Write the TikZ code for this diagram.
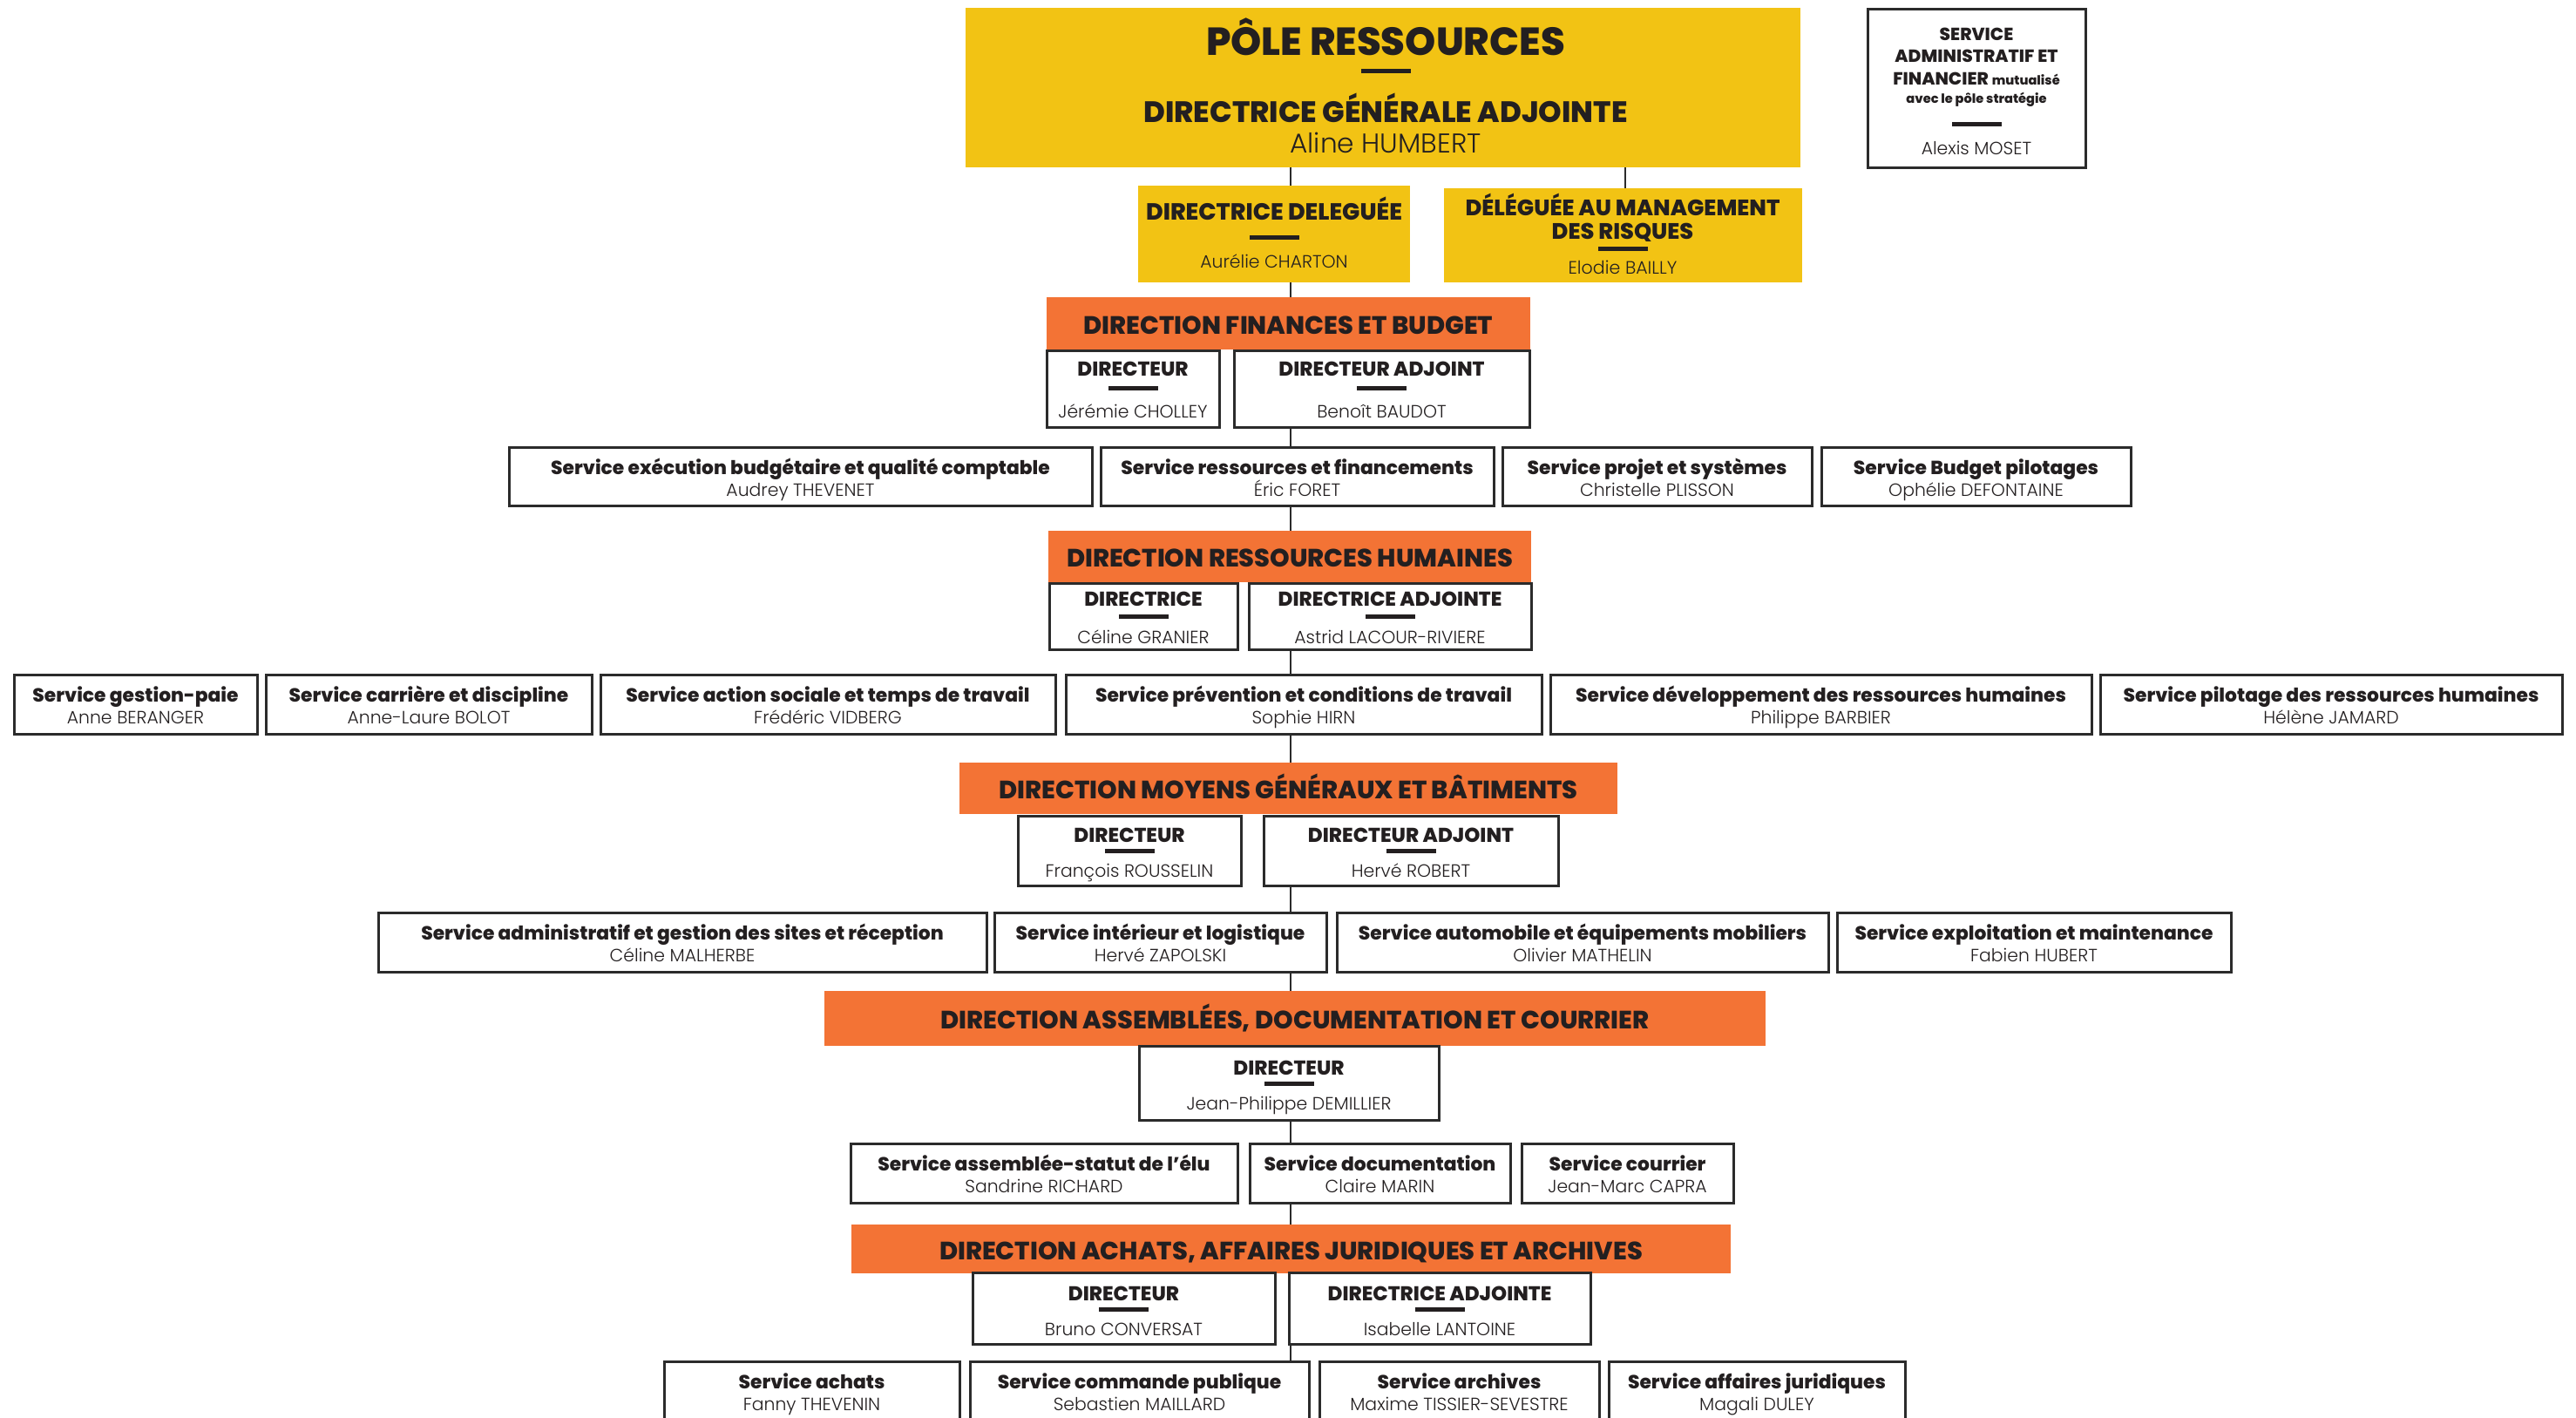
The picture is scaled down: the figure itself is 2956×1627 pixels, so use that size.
\documentclass[tikz,border=0pt]{standalone}
\usepackage{fontspec}
\newfontfamily\bfont{Poppins ExtraBold}
\newfontfamily\lfont{Poppins Light}
\definecolor{cYel}{HTML}{F2C314}
\definecolor{cOra}{HTML}{F37335}
\definecolor{cTxt}{HTML}{231F20}
\definecolor{cBord}{HTML}{2B2B2B}
\newcommand\fs[1]{\fontsize{#1}{#1}\selectfont}
\tikzset{
  txt/.style={inner sep=0pt, outer sep=0pt, text=cTxt, anchor=center, text depth=0pt},
  hb/.style={txt, font=\bfont\fs{14.4}, text height=10.1pt},
  tt/.style={txt, font=\bfont\fs{11.5}, text height=8pt},
  st/.style={txt, font=\bfont\fs{10.9}, text height=7.6pt},
  nm/.style={txt, font=\lfont\fs{10.2}, text height=7.1pt},
  barr/.style={fill=cTxt, inner sep=0pt, outer sep=0pt, minimum width=28.5pt, minimum height=2.5pt},
  yel/.style={fill=cYel, draw=none},
  ora/.style={fill=cOra, draw=none},
  wbox/.style={fill=white, draw=cBord, line width=1.5pt},
  link/.style={draw=cBord, line width=1pt},
}
\newcommand\bx[6]{\node[#6, inner sep=0pt, outer sep=0pt, minimum width={(#4-#2)*0.5pt}, minimum height={(#5-#3)*0.5pt}] (#1) at ({(#2+#4)/2},{(#3+#5)/2}) {};}
\newcommand\sv[7]{\bx{#1}{#2}{#3}{#4}{#5}{wbox}
  \node[st] (#1t) at ({(#2+#4)/2},{#3+24}) {#6};
  \node[nm] (#1n) at ({(#2+#4)/2},{#3+49}) {#7};}
\newcommand\dr[9]{\bx{#1}{#2}{#3}{#4}{#5}{wbox}
  \node[tt] (#1t) at ({(#2+#4)/2},{#3+#8}) {#6};
  \node[barr] (#1b) at ({(#2+#4)/2},{#3+(#8+#9)/2-2}) {};
  \node[nm] (#1n) at ({(#2+#4)/2},{#3+#9}) {#7};}
\newcommand\hd[6]{\bx{#1}{#2}{#3}{#4}{#5}{ora}
  \node[hb] (#1t) at ({(#2+#4)/2},{(#3+#5)/2+2}) {#6};}
\begin{document}
\begin{tikzpicture}[x=0.5pt,y=-0.5pt]
\useasboundingbox (0,0) rectangle (2956,1627);
\fill[white] (0,0) rectangle (2956,1627);
\coordinate (tr) at (1481,0);
\coordinate (tr2) at (1865,0);
% ---- top
\bx{top}{1108}{9}{2066}{192}{yel}
\node[txt, font=\bfont\fs{22.4}, text height=15.7pt] (topa) at (1590,48) {PÔLE RESSOURCES};
\node[barr] (topb) at (1590,82) {};
\node[txt, font=\bfont\fs{16.9}, text height=11.8pt] (topc) at (1590,129) {DIRECTRICE GÉNÉRALE ADJOINTE};
\node[txt, font=\lfont\fs{15.6}, text height=10.9pt] (topd) at (1590,165) {Aline HUMBERT};
% ---- admin
\bx{adm}{2143}{11}{2393}{192}{wbox}
\node[txt, font=\bfont\fs{10.1}, text height=7.1pt] (adm1) at (2268,39) {SERVICE};
\node[txt, font=\bfont\fs{10.1}, text height=7.1pt] (adm2) at (2268,64) {ADMINISTRATIF ET};
\node[txt, font=\bfont\fs{10.1}, text height=7.1pt] (adm3) at (2268,90) {FINANCIER {\fs{7.3}mutualisé}};
\node[txt, font=\bfont\fs{7.3}, text height=5.1pt] (adm4) at (2268,113) {avec le pôle stratégie};
\node[barr] (admb) at (2268,143) {};
\node[txt, font=\lfont\fs{10.2}, text height=7.1pt] (adm5) at (2268,170) {Alexis MOSET};
% ---- deleguees
\bx{dd}{1306}{213}{1618}{324}{yel}
\node[txt, font=\bfont\fs{13.4}, text height=9.4pt] (ddt) at (1462,243) {DIRECTRICE DELEGUÉE};
\node[barr] (ddb) at (1462,272) {};
\node[txt, font=\lfont\fs{10.2}, text height=7.1pt] (ddn) at (1462,300) {Aurélie CHARTON};
\bx{dm}{1657}{216}{2068}{324}{yel}
\node[txt, font=\bfont\fs{12.8}, text height=9pt] (dmt) at (1862,238) {DÉLÉGUÉE AU MANAGEMENT};
\node[txt, font=\bfont\fs{12.8}, text height=9pt] (dmu) at (1862,265) {DES RISQUES};
\node[barr] (dmb) at (1862,285) {};
\node[txt, font=\lfont\fs{10.3}, text height=7.2pt] (dmn) at (1862,307) {Elodie BAILLY};
% ---- finances
\hd{fh}{1201}{341}{1756}{401}{DIRECTION FINANCES ET BUDGET}
\dr{fd}{1201}{402}{1399}{490}{DIRECTEUR}{Jérémie CHOLLEY}{21}{70}
\dr{fa}{1416}{402}{1755}{490}{DIRECTEUR ADJOINT}{Benoît BAUDOT}{21}{70}
\sv{f1}{584}{513}{1253}{580}{Service exécution budgétaire et qualité comptable}{Audrey THEVENET}
\sv{f2}{1263}{513}{1714}{580}{Service ressources et financements}{Éric FORET}
\sv{f3}{1724}{513}{2079}{580}{Service projet et systèmes}{Christelle PLISSON}
\sv{f4}{2090}{513}{2445}{580}{Service Budget pilotages}{Ophélie DEFONTAINE}
% ---- RH
\hd{rh}{1203}{609}{1757}{668}{DIRECTION RESSOURCES HUMAINES}
\dr{rd}{1204}{669}{1420}{745}{DIRECTRICE}{Céline GRANIER}{18}{62}
\dr{ra}{1433}{669}{1757}{745}{DIRECTRICE ADJOINTE}{Astrid LACOUR-RIVIERE}{18}{62}
\sv{r1}{16}{774}{295}{842}{Service gestion-paie}{Anne BERANGER}
\sv{r2}{305}{774}{679}{842}{Service carrière et discipline}{Anne-Laure BOLOT}
\sv{r3}{689}{774}{1211}{842}{Service action sociale et temps de travail}{Frédéric VIDBERG}
\sv{r4}{1223}{774}{1769}{842}{Service prévention et conditions de travail}{Sophie HIRN}
\sv{r5}{1779}{774}{2400}{842}{Service développement des ressources humaines}{Philippe BARBIER}
\sv{r6}{2410}{774}{2940}{842}{Service pilotage des ressources humaines}{Hélène JAMARD}
% ---- MGB
\hd{mh}{1101}{875}{1856}{934}{DIRECTION MOYENS GÉNÉRAUX ET BÂTIMENTS}
\dr{md}{1168}{936}{1424}{1016}{DIRECTEUR}{François ROUSSELIN}{22}{63}
\dr{ma}{1450}{936}{1788}{1016}{DIRECTEUR ADJOINT}{Hervé ROBERT}{22}{63}
\sv{m1}{434}{1047}{1132}{1115}{Service administratif et gestion des sites et réception}{Céline MALHERBE}
\sv{m2}{1141}{1047}{1522}{1115}{Service intérieur et logistique}{Hervé ZAPOLSKI}
\sv{m3}{1534}{1047}{2098}{1115}{Service automobile et équipements mobiliers}{Olivier MATHELIN}
\sv{m4}{2108}{1047}{2560}{1115}{Service exploitation et maintenance}{Fabien HUBERT}
% ---- ADC
\hd{ah}{946}{1137}{2026}{1200}{DIRECTION ASSEMBLÉES, DOCUMENTATION ET COURRIER}
\dr{ad}{1307}{1200}{1651}{1285}{DIRECTEUR}{Jean-Philippe DEMILLIER}{25}{66}
\sv{a1}{976}{1312}{1420}{1380}{Service assemblée-statut de l’élu}{Sandrine RICHARD}
\sv{a2}{1434}{1312}{1733}{1380}{Service documentation}{Claire MARIN}
\sv{a3}{1746}{1312}{1989}{1380}{Service courrier}{Jean-Marc CAPRA}
% ---- AAJA
\hd{jh}{977}{1405}{1986}{1461}{DIRECTION ACHATS, AFFAIRES JURIDIQUES ET ARCHIVES}
\dr{jd}{1116}{1460}{1463}{1542}{DIRECTEUR}{Bruno CONVERSAT}{24}{65}
\dr{ja}{1479}{1460}{1825}{1542}{DIRECTRICE ADJOINTE}{Isabelle LANTOINE}{24}{65}
\sv{j1}{762}{1562}{1101}{1634}{Service achats}{Fanny THEVENIN}
\sv{j2}{1113}{1562}{1502}{1634}{Service commande publique}{Sebastien MAILLARD}
\sv{j3}{1514}{1562}{1835}{1634}{Service archives}{Maxime TISSIER-SEVESTRE}
\sv{j4}{1846}{1562}{2186}{1634}{Service affaires juridiques}{Magali DULEY}
% ---- connectors
\draw[link] (top.south -| tr) -- (dd.north -| tr);
\draw[link] (top.south -| tr2) -- (dm.north -| tr2);
\draw[link] (dd.south -| tr) -- (fh.north -| tr);
\draw[link] (fa.south -| tr) -- (f2.north -| tr);
\draw[link] (f2.south -| tr) -- (rh.north -| tr);
\draw[link] (ra.south -| tr) -- (r4.north -| tr);
\draw[link] (r4.south -| tr) -- (mh.north -| tr);
\draw[link] (ma.south -| tr) -- (m2.north -| tr);
\draw[link] (m2.south -| tr) -- (ah.north -| tr);
\draw[link] (ad.south -| tr) -- (a2.north -| tr);
\draw[link] (a2.south -| tr) -- (jh.north -| tr);
\draw[link] (ja.south -| tr) -- (j2.north -| tr);
\end{tikzpicture}
\end{document}
